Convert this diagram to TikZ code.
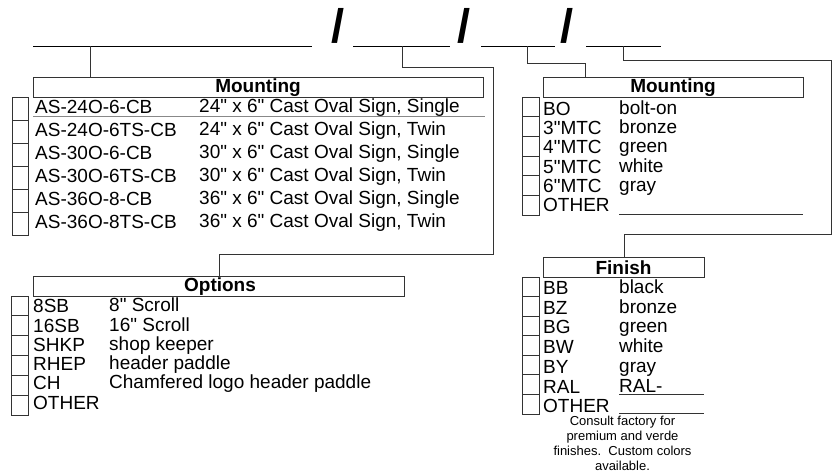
\documentclass[tikz,border=0pt]{standalone}
\usepackage{fontspec}
\newfontfamily\arial{Liberation Sans}
\newcommand\fmain{\arial\fontsize{19}{19}\selectfont}
\newcommand\fnote{\arial\fontsize{13}{15}\selectfont}
\newcommand\fslash{\arial\bfseries\fontsize{47}{47}\selectfont}
\definecolor{lc}{HTML}{333333}
\definecolor{sepc}{HTML}{888888}
\begin{document}
\begin{tikzpicture}[x=1pt,y=-1pt,
  txt/.style={anchor=base west, inner sep=0pt, font=\fmain},
  hd/.style={anchor=base, inner sep=0pt, font=\fmain\bfseries},
  hbox/.style={draw=lc, line width=0.8pt, anchor=north west, inner sep=0pt, minimum height=20pt},
  cbox/.style={draw=lc, line width=0.8pt},
  wire/.style={draw=lc, line width=0.8pt},
  blank/.style={draw=black, line width=0.9pt},
  sl/.style={anchor=base, inner sep=0pt, font=\fslash},
  note/.style={anchor=base, inner sep=0pt, font=\fnote}]
\useasboundingbox (0,0) rectangle (836,474);

% top fill-in blanks and slashes
\coordinate (b1s) at (33,46);  \coordinate (b1e) at (312,46);
\coordinate (b2s) at (353,46); \coordinate (b2e) at (450,46);
\coordinate (b3s) at (481,46); \coordinate (b3e) at (555,46);
\coordinate (b4s) at (586,46); \coordinate (b4e) at (661,46);
\draw[blank] (b1s) -- (b1e);
\draw[blank] (b2s) -- (b2e);
\draw[blank] (b3s) -- (b3e);
\draw[blank] (b4s) -- (b4e);
\node[sl] (s1) at (338,42) {/};
\node[sl] (s2) at (464,42) {/};
\node[sl] (s3) at (567,42) {/};

% header boxes
\node[hbox, minimum width=450pt] (mh) at (33,77) {};
\node[hd] (mht) at (258,92) {Mounting};
\node[hbox, minimum width=371pt] (oh) at (33,276) {};
\node[hd] (oht) at (220,291.5) {Options};
\node[hbox, minimum width=260pt] (rh) at (543,77) {};
\node[hd] (rht) at (673,92) {Mounting};
\node[hbox, minimum width=161pt] (fh) at (543,257) {};
\node[hd] (fht) at (623.5,274) {Finish};

% connectors
\coordinate (t1) at (90,46);
\draw[wire] (t1) -- (t1 |- mh.north);
\coordinate (t2) at (402,46);
\coordinate (k2a) at (493,67);
\coordinate (k2b) at (493,254);
\draw[wire] (t2) |- (k2a) -- (k2b) -| (oh.north);
\coordinate (t3) at (527,46);
\coordinate (k3) at (585,63);
\draw[wire] (t3) |- (k3) -- (k3 |- rh.north);
\coordinate (t4) at (623,46);
\coordinate (k4a) at (831,60);
\coordinate (k4b) at (831,234);
\draw[wire] (t4) |- (k4a) -- (k4b) -| (fh.north);

% left Mounting list
\foreach \i in {0,...,5} \draw[cbox] (12,{97+23*\i}) rectangle (28,{120+23*\i});
\draw[draw=sepc, line width=0.8pt] (33,116.5) -- (485,116.5);
\foreach \c/\d [count=\i from 0] in {AS-24O-6-CB/24" x 6" Cast Oval Sign{,} Single,
  AS-24O-6TS-CB/24" x 6" Cast Oval Sign{,} Twin,
  AS-30O-6-CB/30" x 6" Cast Oval Sign{,} Single,
  AS-30O-6TS-CB/30" x 6" Cast Oval Sign{,} Twin,
  AS-36O-8-CB/36" x 6" Cast Oval Sign{,} Single,
  AS-36O-8TS-CB/36" x 6" Cast Oval Sign{,} Twin} {
  \node[txt] (lc\i) at (35,{113.5+23*\i}) {\c};
  \node[txt] (ld\i) at (199,{112.5+23*\i}) {\d};
}

% right Mounting list
\foreach \i in {0,...,5} \draw[cbox] (522,{97+19.67*\i}) rectangle (539,{116.67+19.67*\i});
\foreach \c/\d [count=\i from 0] in {BO/bolt-on, 3"MTC/bronze, 4"MTC/green, 5"MTC/white, 6"MTC/gray, OTHER/} {
  \node[txt] (rc\i) at (543,{115+19.35*\i}) {\c};
  \node[txt] (rd\i) at (619,{114+19.35*\i}) {\d};
}
\coordinate (ru1) at (619,214); \coordinate (ru2) at (803,214);
\draw[wire] (ru1) -- (ru2);

% Options list
\foreach \i in {0,...,5} \draw[cbox] (11,{296+19.83*\i}) rectangle (28,{315.83+19.83*\i});
\foreach \c/\d [count=\i from 0] in {8SB/8" Scroll, 16SB/16" Scroll, SHKP/shop keeper, RHEP/header paddle, CH/Chamfered logo header paddle, OTHER/} {
  \node[txt] (oc\i) at (33,{312.7+19.3*\i}) {\c};
  \node[txt] (od\i) at (109,{311.7+19.3*\i}) {\d};
}

% Finish list
\foreach \i in {0,...,6} \draw[cbox] (522,{277+19.57*\i}) rectangle (539,{296.57+19.57*\i});
\foreach \c/\d [count=\i from 0] in {BB/black, BZ/bronze, BG/green, BW/white, BY/gray, RAL/RAL-, OTHER/} {
  \node[txt] (fc\i) at (543,{294.3+19.78*\i}) {\c};
  \node[txt] (fd\i) at (619,{293.3+19.78*\i}) {\d};
}
\coordinate (fu1) at (619,394); \coordinate (fu2) at (704,394);
\coordinate (fu3) at (619,413.5); \coordinate (fu4) at (704,413.5);
\draw[wire] (fu1) -- (fu2);
\draw[wire] (fu3) -- (fu4);

% note
\node[note] (n1) at (622.5,425) {Consult factory for};
\node[note] (n2) at (622.5,440) {premium and verde};
\node[note] (n3) at (622.5,455) {finishes.\ \ Custom colors};
\node[note] (n4) at (622.5,470) {available.};
\end{tikzpicture}
\end{document}
